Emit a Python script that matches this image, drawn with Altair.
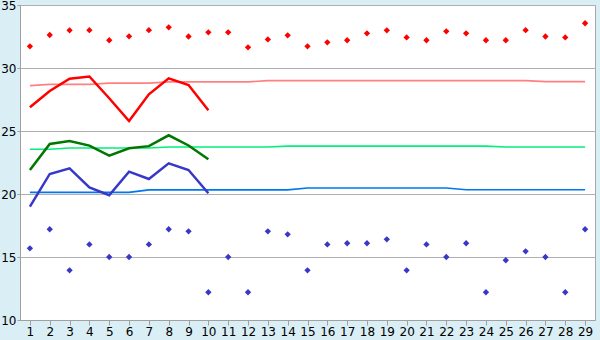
import altair as alt
import pandas as pd

days = list(range(1, 30))

max_pts = [31.72, 32.62, 32.99, 33.0, 32.2, 32.51, 33.0, 33.23, 32.5, 32.83,
           32.83, 31.64, 32.27, 32.59, 31.72, 32.04, 32.2, 32.75, 32.99, 32.43,
           32.2, 32.91, 32.75, 32.2, 32.2, 33.0, 32.5, 32.43, 33.55]
min_pts = [15.69, 17.2, 13.94, 16.0, 15.0, 15.0, 16.0, 17.2, 17.04, 12.2,
           15.0, 12.2, 17.04, 16.8, 13.94, 16.0, 16.09, 16.09, 16.4, 13.94,
           16.0, 15.0, 16.09, 12.2, 14.74, 15.45, 15.0, 12.2, 17.2]

max_line = [26.88, 28.17, 29.15, 29.33, 27.6, 25.79, 27.91, 29.18, 28.65, 26.64]
mid_line = [21.9, 23.97, 24.2, 23.84, 23.04, 23.63, 23.8, 24.66, 23.85, 22.75]
min_line = [19.0, 21.59, 22.04, 20.53, 19.9, 21.77, 21.19, 22.43, 21.9, 20.06]

norm_max = [28.6, 28.7, 28.7, 28.7, 28.8, 28.8, 28.8, 28.9, 28.9, 28.9,
            28.9, 28.9, 29.0, 29.0, 29.0, 29.0, 29.0, 29.0, 29.0, 29.0,
            29.0, 29.0, 29.0, 29.0, 29.0, 29.0, 28.92, 28.92, 28.92]
norm_mid = [23.55, 23.55, 23.65, 23.65, 23.65, 23.65, 23.65, 23.73, 23.73, 23.73,
            23.73, 23.73, 23.73, 23.8, 23.8, 23.8, 23.8, 23.8, 23.8, 23.8,
            23.8, 23.8, 23.8, 23.8, 23.73, 23.73, 23.73, 23.73, 23.73]
norm_min = [20.13, 20.13, 20.13, 20.13, 20.13, 20.13, 20.33, 20.33, 20.33, 20.33,
            20.33, 20.33, 20.33, 20.33, 20.48, 20.48, 20.48, 20.48, 20.48, 20.48,
            20.48, 20.48, 20.34, 20.34, 20.34, 20.34, 20.34, 20.34, 20.34]

series_names = ["norm_max", "norm_mid", "norm_min", "max_line", "mid_line", "min_line",
                "max_pts", "min_pts"]
series_colors = ["#ff8080", "#00f07a", "#0077ee", "#ff0000", "#007700", "#3838c8",
                 "#ff0000", "#3838c8"]

rows = []
for name, vals in [("norm_max", norm_max), ("norm_mid", norm_mid), ("norm_min", norm_min),
                   ("max_line", max_line), ("mid_line", mid_line), ("min_line", min_line),
                   ("max_pts", max_pts), ("min_pts", min_pts)]:
    for d, v in zip(days, vals):
        rows.append({"day": d, "value": v, "series": name})
df = pd.DataFrame(rows)

x_enc = alt.X("day:O", scale=alt.Scale(type="point", padding=0.5, domain=days),
              axis=alt.Axis(title=None, labelAngle=0, grid=False, tickSize=5,
                            tickColor="#a0a0a0", domainColor="#a0a0a0",
                            labelFont="DejaVu Sans", labelFontSize=12, labelColor="#000000",
                            labelPadding=1))
y_enc = alt.Y("value:Q", scale=alt.Scale(domain=[10, 35], nice=False, zero=False),
              axis=alt.Axis(title=None, values=[10, 15, 20, 25, 30, 35], grid=True,
                            gridColor="#b0b0b0", tickSize=3, tickColor="#a0a0a0",
                            domainColor="#a0a0a0", labelFont="DejaVu Sans",
                            labelFontSize=12, labelColor="#000000", labelPadding=1))
color_enc = alt.Color("series:N", scale=alt.Scale(domain=series_names, range=series_colors),
                      legend=None)

norm_lines = alt.Chart(df).transform_filter(
    alt.FieldOneOfPredicate(field="series", oneOf=["norm_max", "norm_mid", "norm_min"])
).mark_line(strokeWidth=1.6, interpolate="linear").encode(x=x_enc, y=y_enc, color=color_enc,
                                                           detail="series:N")

zig_lines = alt.Chart(df).transform_filter(
    alt.FieldOneOfPredicate(field="series", oneOf=["max_line", "mid_line", "min_line"])
).mark_line(strokeWidth=2.5).encode(x=x_enc, y=y_enc, color=color_enc, detail="series:N")

pts = alt.Chart(df).transform_filter(
    alt.FieldOneOfPredicate(field="series", oneOf=["max_pts", "min_pts"])
).mark_point(shape="diamond", filled=True, size=40, opacity=1).encode(
    x=x_enc, y=y_enc, color=color_enc)

chart = alt.layer(norm_lines, zig_lines, pts).properties(
    width=575, height=315,
    autosize=alt.AutoSizeParams(type="none"),
    padding={"left": 20, "top": 5, "right": 5, "bottom": 20},
    background="#daeef5",
).configure_view(fill="#ffffff", stroke="#a8a8a8", strokeWidth=1)

chart.save("out.html", embed_options={"renderer": "svg", "actions": False})
